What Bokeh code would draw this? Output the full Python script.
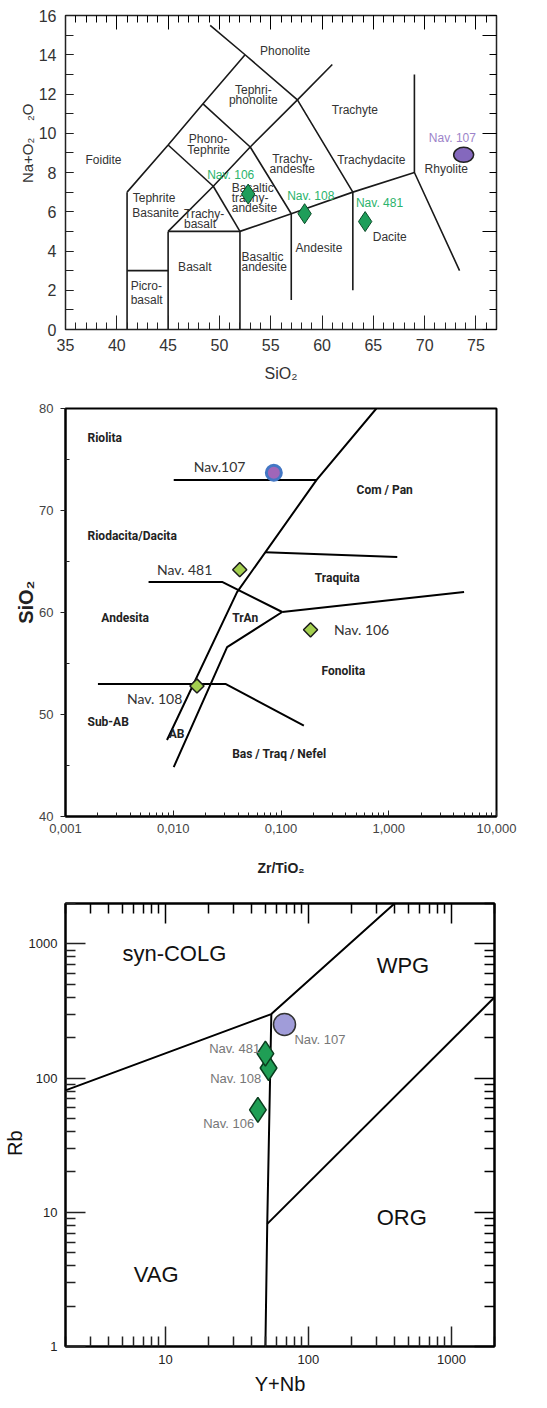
import math
from bokeh.plotting import figure
from bokeh.models import (FixedTicker, LinearAxis, LogAxis, Title, Range1d,
                          CustomJSTickFormatter)
from bokeh.layouts import column
from bokeh.embed import file_html
from bokeh.resources import INLINE
from bokeh.core.properties import value

FONT = "Liberation Sans"

# ------------------------------------------------------------------ data
samples = ["Nav. 106", "Nav. 108", "Nav. 481", "Nav. 107"]

# Panel 1 : TAS diagram
tas_x_ticks = [35, 40, 45, 50, 55, 60, 65, 70, 75]
tas_y_ticks = [0, 2, 4, 6, 8, 10, 12, 14, 16]
tas_sio2 = [52.8, 58.3, 64.2, 73.8]
tas_alk = [6.9, 5.9, 5.5, 8.9]
tas_lines_x = [
    [41, 41], [41, 45], [45, 45], [45, 52], [52, 52],
    [52, 57, 63, 69, 73.4], [57, 57], [63, 63], [69, 69],
    [41, 45, 48.4, 52.5, 49.1], [45, 49.4, 53, 57.6, 61],
    [49.4, 52], [45, 49.4], [48.4, 53, 57], [52.5, 57.6, 63],
]
tas_lines_y = [
    [0, 7], [3, 3], [0, 5], [5, 5], [0, 5],
    [5, 5.9, 7, 8, 3], [5.9, 1.5], [7, 2], [8, 13],
    [7, 9.4, 11.5, 14, 15.5], [5, 7.3, 9.3, 11.7, 13.5],
    [7.3, 5], [9.4, 7.3], [11.5, 9.3, 5.9], [14, 11.7, 7],
]
tas_c_text = ["Phonolite", "Tephri-", "phonolite", "Trachyte", "Phono-", "Tephrite",
              "Foidite", "Trachy-", "andesite", "Trachydacite", "Rhyolite",
              "Andesite", "Dacite", "Basalt"]
tas_c_x = [56.4, 53.3, 53.3, 63.2, 48.9, 48.95, 38.7, 57.1, 57.1, 64.8, 72.1, 59.7, 66.6, 47.6]
tas_c_y = [14.17, 12.21, 11.70, 11.16, 9.72, 9.17, 8.66, 8.70, 8.19, 8.66, 8.19, 4.16, 4.71, 3.18]
tas_l_text = ["Basaltic", "trachy-", "andesite", "Tephrite", "Basanite", "Trachy-", "basalt",
              "Basaltic", "andesite", "Picro-", "basalt"]
tas_l_x = [51.2, 51.2, 51.2, 41.55, 41.5, 46.55, 46.55, 52.15, 52.15, 41.35, 41.35]
tas_l_y = [7.20, 6.69, 6.18, 6.69, 5.93, 5.89, 5.38, 3.69, 3.18, 2.21, 1.48]
tas_lab_x = [51.1, 58.9, 65.6, 72.7]
tas_lab_y = [7.88, 6.78, 6.45, 9.77]

# Panel 2 : SiO2 vs Zr/TiO2 (Winchester & Floyd)
wf_x_ticks = [0.001, 0.01, 0.1, 1, 10]
wf_y_ticks = [40, 50, 60, 70, 80]
wf_zr_tio2 = [0.188, 0.0166, 0.0414, 0.0858]
wf_sio2 = [58.3, 52.8, 64.2, 73.7]
wf_lines_x = [
    [0.767, 0.214, 0.0391, 0.00875],
    [0.0101, 0.214],
    [0.0714, 1.20],
    [0.0059, 0.0284, 0.1026],
    [0.1026, 5.0],
    [0.1026, 0.0316, 0.0101],
    [0.002, 0.0305, 0.163],
]
wf_lines_y = [
    [80, 73.0, 62.0, 47.5],
    [73.0, 73.0],
    [65.9, 65.45],
    [63.0, 63.0, 60.05],
    [60.05, 62.0],
    [60.05, 56.6, 44.84],
    [53.0, 53.0, 48.9],
]
wf_reg_text = ["Riolita", "Riodacita/Dacita", "Com / Pan", "Traquita", "Andesita", "TrAn",
               "Fonolita", "Sub-AB", "AB", "Bas / Traq / Nefel"]
wf_reg_x = [0.0016, 0.0016, 0.503, 0.206, 0.00215, 0.0352, 0.238, 0.0016, 0.00907, 0.0352]
wf_reg_y = [77.06, 67.47, 72.05, 63.39, 59.49, 59.49, 54.26, 49.26, 48.05, 46.08]
wf_lab_text = ["Nav. 106", "Nav. 108", "Nav. 481", "Nav.107"]
wf_lab_x = [0.310, 0.00372, 0.00706, 0.0155]
wf_lab_y = [58.3, 51.55, 64.2, 74.28]

# Panel 3 : Rb vs Y+Nb (Pearce)
pe_x_ticks = [10, 100, 1000]
pe_y_ticks = [1, 10, 100, 1000]
pe_ynb = [44.3, 52.6, 50.0, 68.0]
pe_rb = [58.0, 119.0, 152.0, 251.0]
pe_lines_x = [[2, 55, 400], [55, 51.5, 50], [51.5, 2000]]
pe_lines_y = [[81, 300, 2000], [300, 8.2, 1], [8.2, 400]]
pe_reg_text = ["syn-COLG", "WPG", "ORG", "VAG"]
pe_reg_x = [5.0, 300, 300, 6.0]
pe_reg_y = [852, 690, 9.1, 3.44]
pe_lab_x = [41.8, 46.8, 46.0, 79.8]
pe_lab_y = [45.7, 98.9, 167.0, 193.0]


def decades_minor(lo, hi):
    out = []
    e = -4
    while 10 ** e <= hi:
        for k in range(2, 10):
            v = k * 10 ** e
            if lo <= v <= hi:
                out.append(round(v, 6))
        e += 1
    return out


def style_axis(ax, size, color="#222", font=FONT):
    ax.major_label_text_font = font
    ax.major_label_text_font_size = size
    ax.major_label_text_color = color
    ax.axis_line_color = "#222"
    ax.major_tick_line_color = "#222"
    ax.minor_tick_line_color = "#222"


def blank():
    return CustomJSTickFormatter(code="return ''")


def side_title(p, text, offset, size, color, style="normal"):
    p.add_layout(Title(text=text, align="right", offset=offset, text_font=FONT,
                       text_font_size=size, text_font_style=style, text_color=color,
                       standoff=0), "left")


# ------------------------------------------------------------------ panel 1
p1 = figure(frame_width=431, frame_height=314, x_range=Range1d(35, 77), y_range=Range1d(0, 16),
            output_backend="svg", toolbar_location=None,
            min_border_left=64, min_border_right=44, min_border_top=15, min_border_bottom=66)
p1.grid.visible = False
p1.outline_line_color = "#222"
p1.outline_line_width = 1.5

xminor1 = list(range(35, 78))
yminor1 = list(range(0, 17))
xa = p1.xaxis[0]
xa.ticker = FixedTicker(ticks=tas_x_ticks, minor_ticks=xminor1)
style_axis(xa, "16px", "#333")
xa.major_tick_in, xa.major_tick_out, xa.minor_tick_in, xa.minor_tick_out = 14, 0, 7, 0
xa.major_label_standoff = 9
xa.axis_label = "SiO₂"
xa.axis_label_text_font = FONT
xa.axis_label_text_font_size = "16px"
xa.axis_label_text_font_style = "normal"
xa.axis_label_text_color = "#333"
xa.axis_label_standoff = 11

ya = p1.yaxis[0]
ya.ticker = FixedTicker(ticks=tas_y_ticks, minor_ticks=yminor1)
style_axis(ya, "16px", "#333")
ya.major_tick_in, ya.major_tick_out, ya.minor_tick_in, ya.minor_tick_out = 8, 0, 8, 0
ya.major_label_standoff = 9
side_title(p1, "Na+O₂\u00a0\u00a0\u00a0\u00a0₂O", 88, "15px", "#333")

top1 = LinearAxis(ticker=FixedTicker(ticks=tas_x_ticks, minor_ticks=xminor1),
                  formatter=blank(), major_label_standoff=0,
                  major_tick_in=14, major_tick_out=0, minor_tick_in=7, minor_tick_out=0,
                  axis_line_color="#222")
p1.add_layout(top1, "above")
right1 = LinearAxis(ticker=FixedTicker(ticks=[0, 5, 10, 15], minor_ticks=yminor1),
                    formatter=blank(), major_label_standoff=0,
                    major_tick_in=14, major_tick_out=0, minor_tick_in=7, minor_tick_out=0,
                    axis_line_color="#222")
p1.add_layout(right1, "right")

p1.multi_line(xs=tas_lines_x, ys=tas_lines_y, line_color="#1a1a1a", line_width=1.6)

p1.text(x=tas_c_x, y=tas_c_y, text=tas_c_text, text_font=value(FONT), text_font_size="12px",
        text_color="#333", text_align="center", text_baseline="middle")
p1.text(x=tas_l_x, y=tas_l_y, text=tas_l_text, text_font=value(FONT), text_font_size="12px",
        text_color="#333", text_align="left", text_baseline="middle")

p1.scatter(x=tas_sio2[:3], y=tas_alk[:3], marker="diamond", size=20,
           fill_color="#1e9e5a", line_color="#0c4d29", line_width=1)
p1.ellipse(x=tas_sio2[3:], y=tas_alk[3:], width=20, height=15,
           width_units="screen", height_units="screen",
           fill_color="#8468bd", line_color="#222", line_width=1.5)
p1.text(x=tas_lab_x[:3], y=tas_lab_y[:3], text=samples[:3], text_font=value(FONT),
        text_font_size="12px", text_color="#2bb36c", text_align="center", text_baseline="middle")
p1.text(x=tas_lab_x[3:], y=tas_lab_y[3:], text=samples[3:], text_font=value(FONT),
        text_font_size="12px", text_color="#9c83c9", text_align="center", text_baseline="middle")

# ------------------------------------------------------------------ panel 2
p2 = figure(frame_width=431, frame_height=408, x_axis_type="log",
            x_range=Range1d(0.001, 10), y_range=Range1d(40, 80),
            output_backend="svg", toolbar_location=None,
            min_border_left=65, min_border_right=43, min_border_top=13, min_border_bottom=72)
p2.grid.visible = False
p2.outline_line_color = "black"
p2.outline_line_width = 2

xa2 = p2.xaxis[0]
xa2.ticker = FixedTicker(ticks=wf_x_ticks, minor_ticks=decades_minor(0.001, 10))
xa2.formatter = CustomJSTickFormatter(code="return tick.toFixed(3).replace('.', ',')")
style_axis(xa2, "13px", "#444")
xa2.axis_line_color = "black"
xa2.axis_line_width = 2
xa2.major_tick_in, xa2.major_tick_out, xa2.minor_tick_in, xa2.minor_tick_out = 6, 0, 4, 0
xa2.major_label_standoff = 7
xa2.axis_label = "Zr/TiO₂"
xa2.axis_label_text_font = FONT
xa2.axis_label_text_font_size = "14px"
xa2.axis_label_text_font_style = "bold"
xa2.axis_label_text_color = "#222"
xa2.axis_label_standoff = 24

ya2 = p2.yaxis[0]
ya2.ticker = FixedTicker(ticks=wf_y_ticks, minor_ticks=[45, 55, 65, 75])
style_axis(ya2, "13px", "#444")
ya2.axis_line_color = "black"
ya2.axis_line_width = 2
ya2.major_tick_in, ya2.major_tick_out, ya2.minor_tick_in, ya2.minor_tick_out = 0, 5, 4, 0
ya2.major_label_standoff = 7
side_title(p2, "SiO₂", 172, "20px", "#222", style="bold")

p2.multi_line(xs=wf_lines_x, ys=wf_lines_y, line_color="black", line_width=2)
p2.text(x=wf_reg_x, y=wf_reg_y, text=wf_reg_text, text_font=value("Roboto"),
        text_font_size="12px", text_font_style="bold", text_color="#222",
        text_align="left", text_baseline="middle")
p2.scatter(x=wf_zr_tio2[:3], y=wf_sio2[:3], marker="square", angle=math.pi / 4, size=10,
           fill_color="#a3cf4f", line_color="#1a1a1a", line_width=1.5)
p2.scatter(x=wf_zr_tio2[3:], y=wf_sio2[3:], marker="circle", size=15,
           fill_color="#a066b8", line_color="#4377c4", line_width=3)
p2.text(x=wf_lab_x, y=wf_lab_y, text=wf_lab_text,
        text_font=value("Lato"), text_font_size="14px", text_color="#333",
        text_align="left", text_baseline="middle")

# ------------------------------------------------------------------ panel 3
p3 = figure(frame_width=429, frame_height=443, x_axis_type="log", y_axis_type="log",
            x_range=Range1d(2, 2000), y_range=Range1d(1, 2000),
            output_backend="svg", toolbar_location=None,
            min_border_left=63, min_border_right=47, min_border_top=15, min_border_bottom=58)
p3.grid.visible = False
p3.outline_line_color = "black"
p3.outline_line_width = 2

xminor3 = decades_minor(2, 2000)
yminor3 = decades_minor(1, 2000)
fmt = "return tick.toFixed(0)"

xa3 = p3.xaxis[0]
xa3.ticker = FixedTicker(ticks=pe_x_ticks, minor_ticks=xminor3)
xa3.formatter = CustomJSTickFormatter(code=fmt)
style_axis(xa3, "13px", "#222")
xa3.axis_line_color = "black"
xa3.axis_line_width = 2
xa3.major_tick_in, xa3.major_tick_out, xa3.minor_tick_in, xa3.minor_tick_out = 20, 0, 10, 0
xa3.major_tick_line_width = 1.5
xa3.minor_tick_line_width = 1.5
xa3.major_label_standoff = 8
xa3.axis_label = "Y+Nb"
xa3.axis_label_text_font = FONT
xa3.axis_label_text_font_size = "20px"
xa3.axis_label_text_font_style = "normal"
xa3.axis_label_text_color = "#111"
xa3.axis_label_standoff = 6

ya3 = p3.yaxis[0]
ya3.ticker = FixedTicker(ticks=pe_y_ticks, minor_ticks=yminor3)
ya3.formatter = CustomJSTickFormatter(code=fmt)
style_axis(ya3, "13px", "#222")
ya3.axis_line_color = "black"
ya3.axis_line_width = 2
ya3.major_tick_in, ya3.major_tick_out, ya3.minor_tick_in, ya3.minor_tick_out = 20, 0, 10, 0
ya3.major_tick_line_width = 1.5
ya3.minor_tick_line_width = 1.5
ya3.major_label_standoff = 8
side_title(p3, "Rb", 227, "20px", "#111")

top3 = LogAxis(ticker=FixedTicker(ticks=pe_x_ticks, minor_ticks=xminor3),
               formatter=blank(), major_label_standoff=0,
               major_tick_in=20, major_tick_out=0, minor_tick_in=10, minor_tick_out=0,
               major_tick_line_width=1.5, minor_tick_line_width=1.5,
               axis_line_color="black", axis_line_width=2)
p3.add_layout(top3, "above")
right3 = LogAxis(ticker=FixedTicker(ticks=pe_y_ticks, minor_ticks=yminor3),
                 formatter=blank(), major_label_standoff=0,
                 major_tick_in=20, major_tick_out=0, minor_tick_in=10, minor_tick_out=0,
                 major_tick_line_width=1.5, minor_tick_line_width=1.5,
                 axis_line_color="black", axis_line_width=2)
p3.add_layout(right3, "right")

p3.multi_line(xs=pe_lines_x, ys=pe_lines_y, line_color="black", line_width=2)
p3.text(x=pe_reg_x, y=pe_reg_y, text=pe_reg_text, text_font=value(FONT),
        text_font_size="22px", text_color="#111", text_align="left", text_baseline="middle")
p3.scatter(x=pe_ynb[:3], y=pe_rb[:3], marker="diamond", size=25,
           fill_color="#1f9e55", line_color="#0a3d1e", line_width=1.5)
p3.scatter(x=pe_ynb[3:], y=pe_rb[3:], marker="circle", size=22,
           fill_color="#a09cd9", line_color="#333", line_width=1.5)
p3.text(x=pe_lab_x[:3], y=pe_lab_y[:3], text=samples[:3], text_font=value(FONT),
        text_font_size="13px", text_color="#777", text_align="right", text_baseline="middle")
p3.text(x=pe_lab_x[3:], y=pe_lab_y[3:], text=samples[3:], text_font=value(FONT),
        text_font_size="13px", text_color="#777", text_align="left", text_baseline="middle")

layout = column(p1, p2, p3)
open("out.html", "w").write(file_html(layout, INLINE))
